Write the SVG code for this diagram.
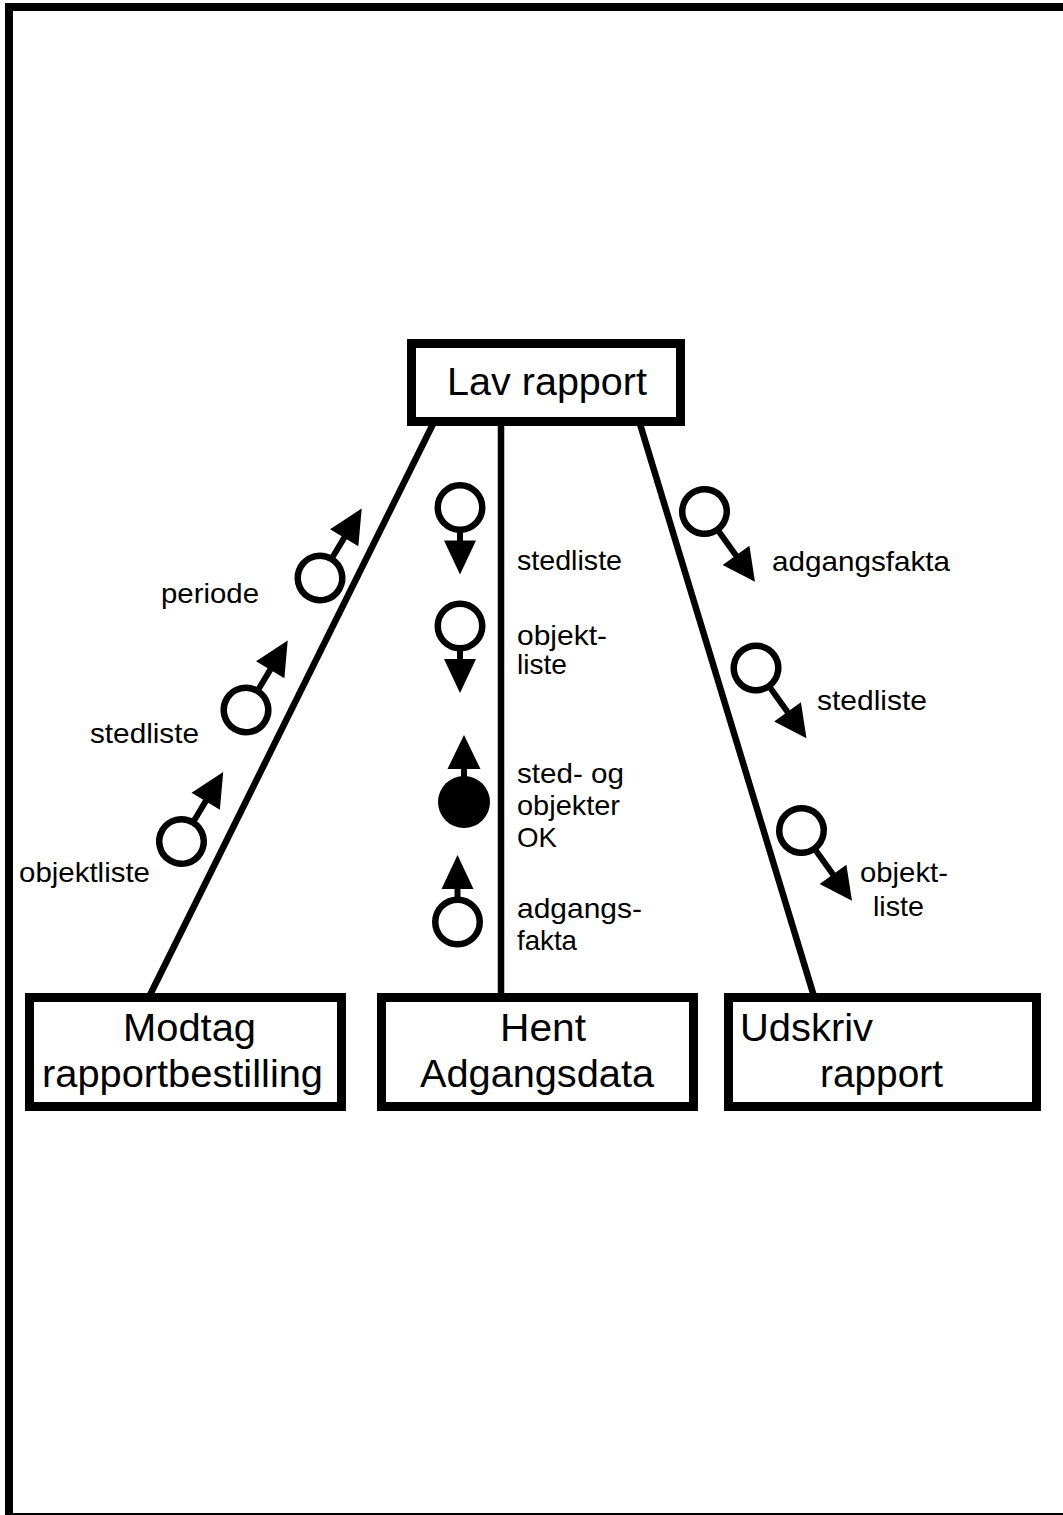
<svg xmlns="http://www.w3.org/2000/svg" width="1063" height="1515" viewBox="0 0 1063 1515">
  <style>
    .box { fill: #fff; stroke: #000; stroke-width: 9; }
    .flow { stroke: #000; stroke-width: 6.5; fill: none; }
    .big { font-family: "Liberation Sans", Arial, sans-serif; font-size: 38px; fill: #000; }
    .lbl { font-family: "Liberation Sans", Arial, sans-serif; font-size: 28px; fill: #000; }
    .ring { fill: #fff; stroke: #000; stroke-width: 6.5; }
    .stem { stroke: #000; stroke-width: 6; }
  </style>
  <defs>
    <!-- data couple with open circle, pointing up in local coords (long stem) -->
    <g id="couple-open-long">
      <line class="stem" x1="0" y1="-24" x2="0" y2="-48"/>
      <polygon points="0,-81 -16.5,-47 16.5,-47" fill="#000"/>
      <circle class="ring" cx="0" cy="0" r="22.25"/>
    </g>
    <g id="couple-open-right">
      <line class="stem" x1="0" y1="-24" x2="0" y2="-55"/>
      <polygon points="0,-86.5 -16.5,-54 16.5,-54" fill="#000"/>
      <circle class="ring" cx="0" cy="0" r="22.25"/>
    </g>
    <!-- short-stem couples used on the vertical flow -->
    <g id="couple-open-short">
      <line class="stem" x1="0" y1="-24" x2="0" y2="-35"/>
      <polygon points="0,-67 -16,-33 16,-33" fill="#000"/>
      <circle class="ring" cx="0" cy="0" r="22.25"/>
    </g>
    <g id="couple-filled-short">
      <line class="stem" x1="0" y1="-24" x2="0" y2="-35"/>
      <polygon points="0,-67 -16.5,-33 16.5,-33" fill="#000"/>
      <circle cx="0" cy="0" r="26" fill="#000"/>
    </g>
  </defs>

  <rect width="1063" height="1515" fill="#fff"/>

  <!-- page frame -->
  <g id="frame">
    <rect x="5" y="3" width="1058" height="8" fill="#000"/>
    <rect x="5" y="3" width="8" height="1512" fill="#000"/>
    <rect x="13" y="1513" width="1050" height="2" fill="#000"/>
  </g>

  <!-- structure chart connectors -->
  <g id="connectors">
    <line class="flow" x1="433" y1="424" x2="146" y2="1003"/>
    <line class="flow" x1="501" y1="424" x2="501" y2="1003"/>
    <line class="flow" x1="640" y1="424" x2="816" y2="1003"/>
  </g>

  <g id="lav-rapport">
    <rect class="box" x="411.5" y="343.5" width="269" height="78"/>
    <text class="big" x="447" y="395" textLength="200" lengthAdjust="spacingAndGlyphs">Lav rapport</text>
  </g>

  <g id="modtag">
    <rect class="box" x="29.5" y="997.5" width="312" height="109"/>
    <text class="big" x="123" y="1041" textLength="133" lengthAdjust="spacingAndGlyphs">Modtag</text>
    <text class="big" x="42" y="1087" textLength="281" lengthAdjust="spacingAndGlyphs">rapportbestilling</text>
  </g>

  <g id="hent">
    <rect class="box" x="381.5" y="997.5" width="312" height="109"/>
    <text class="big" x="500" y="1041" textLength="86" lengthAdjust="spacingAndGlyphs">Hent</text>
    <text class="big" x="420" y="1087" textLength="234" lengthAdjust="spacingAndGlyphs">Adgangsdata</text>
  </g>

  <g id="udskriv">
    <rect class="box" x="728.5" y="997.5" width="308" height="109"/>
    <text class="big" x="740" y="1041" textLength="133" lengthAdjust="spacingAndGlyphs">Udskriv</text>
    <text class="big" x="820" y="1087" textLength="123" lengthAdjust="spacingAndGlyphs">rapport</text>
  </g>

  <!-- couples on Modtag rapportbestilling flow -->
  <g id="couple-periode">
    <use href="#couple-open-long" transform="translate(320,578) rotate(31)"/>
    <text class="lbl" x="161" y="603" textLength="98" lengthAdjust="spacingAndGlyphs">periode</text>
  </g>
  <g id="couple-stedliste-left">
    <use href="#couple-open-long" transform="translate(246,710) rotate(31)"/>
    <text class="lbl" x="90" y="743" textLength="109" lengthAdjust="spacingAndGlyphs">stedliste</text>
  </g>
  <g id="couple-objektliste-left">
    <use href="#couple-open-long" transform="translate(181.5,841.5) rotate(31)"/>
    <text class="lbl" x="19" y="882" textLength="131" lengthAdjust="spacingAndGlyphs">objektliste</text>
  </g>

  <!-- couples on Hent Adgangsdata flow -->
  <g id="couple-stedliste-mid">
    <use href="#couple-open-short" transform="translate(460,507.5) rotate(180)"/>
    <text class="lbl" x="517" y="570" textLength="105" lengthAdjust="spacingAndGlyphs">stedliste</text>
  </g>
  <g id="couple-objektliste-mid">
    <use href="#couple-open-short" transform="translate(460,626) rotate(180)"/>
    <text class="lbl" x="517" y="645" textLength="90" lengthAdjust="spacingAndGlyphs">objekt-</text>
    <text class="lbl" x="517" y="674" textLength="50" lengthAdjust="spacingAndGlyphs">liste</text>
  </g>
  <g id="couple-ok">
    <use href="#couple-filled-short" transform="translate(464,802)"/>
    <text class="lbl" x="517" y="783" textLength="107" lengthAdjust="spacingAndGlyphs">sted- og</text>
    <text class="lbl" x="517" y="815" textLength="103" lengthAdjust="spacingAndGlyphs">objekter</text>
    <text class="lbl" x="517" y="847" textLength="40" lengthAdjust="spacingAndGlyphs">OK</text>
  </g>
  <g id="couple-adgangsfakta-mid">
    <use href="#couple-open-short" transform="translate(457.5,922)"/>
    <text class="lbl" x="517" y="918" textLength="125" lengthAdjust="spacingAndGlyphs">adgangs-</text>
    <text class="lbl" x="517" y="950" textLength="60" lengthAdjust="spacingAndGlyphs">fakta</text>
  </g>

  <!-- couples on Udskriv rapport flow -->
  <g id="couple-adgangsfakta-right">
    <use href="#couple-open-right" transform="translate(704.5,511.5) rotate(144.3)"/>
    <text class="lbl" x="772" y="571" textLength="178" lengthAdjust="spacingAndGlyphs">adgangsfakta</text>
  </g>
  <g id="couple-stedliste-right">
    <use href="#couple-open-right" transform="translate(756,668) rotate(144.3)"/>
    <text class="lbl" x="817" y="710" textLength="110" lengthAdjust="spacingAndGlyphs">stedliste</text>
  </g>
  <g id="couple-objektliste-right">
    <use href="#couple-open-right" transform="translate(801.5,830.5) rotate(144.3)"/>
    <text class="lbl" x="860" y="882" textLength="88" lengthAdjust="spacingAndGlyphs">objekt-</text>
    <text class="lbl" x="873" y="916" textLength="51" lengthAdjust="spacingAndGlyphs">liste</text>
  </g>
</svg>
